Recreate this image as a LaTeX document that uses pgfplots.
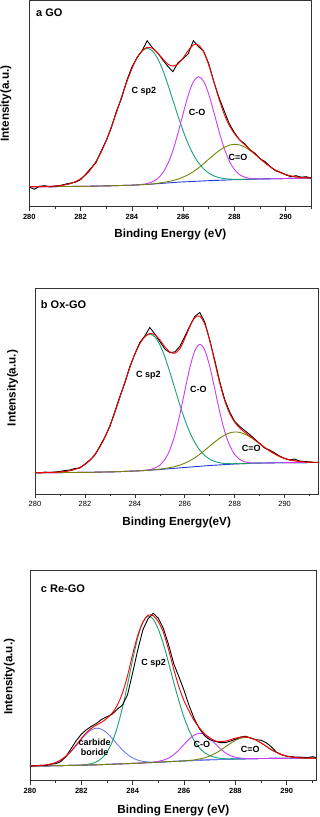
\documentclass[border=0pt]{standalone}
\usepackage{fontspec}
\setmainfont{Liberation Sans}
\usepackage{pgfplots}
\usepackage{pgfplotstable}
\pgfplotsset{compat=1.18}
\definecolor{cgreen}{RGB}{25,160,115}
\definecolor{cpurple}{RGB}{200,60,250}
\definecolor{colive}{RGB}{120,130,10}
\definecolor{cblue}{RGB}{30,60,220}
\definecolor{ccarb}{RGB}{110,125,240}

% Panel a: x, baseline, C sp2, C-O, C=O, envelope, data
\pgfplotstableread{
x B G P O E D
280.0 20.0 20.0 20.0 20.0 20.0 19.5
280.2 20.0 20.0 20.0 20.0 20.0 17.5
280.4 20.0 20.0 20.0 20.0 20.0 20.5
280.6 20.1 20.2 20.1 20.1 20.2 21.0
280.8 20.1 20.4 20.1 20.1 20.4 19.8
281.0 20.1 20.6 20.1 20.1 20.6 20.5
281.2 20.2 21.2 20.2 20.2 21.2 21.0
281.4 20.2 21.9 20.2 20.2 21.9 22.5
281.6 20.2 23.1 20.2 20.2 23.1 23.5
281.8 20.3 25.0 20.3 20.3 25.0 24.5
282.0 20.3 27.8 20.3 20.3 27.8 27.0
282.2 20.4 31.9 20.4 20.4 31.9 32.5
282.4 20.5 37.6 20.5 20.5 37.6 38.5
282.6 20.6 45.1 20.6 20.6 45.1 44.0
282.8 20.7 54.6 20.7 20.7 54.6 55.5
283.0 20.8 66.2 20.8 20.8 66.2 66.0
283.2 20.9 79.7 20.9 20.9 79.7 79.0
283.4 21.1 94.4 21.1 21.1 94.4 95.5
283.6 21.2 109.7 21.2 21.2 109.7 108.5
283.8 21.4 124.8 21.4 21.4 124.8 126.0
284.0 21.5 138.1 21.5 21.5 138.1 139.5
284.2 21.8 148.8 21.9 21.8 148.9 149.0
284.4 22.0 155.7 22.3 22.0 156.0 156.0
284.6 22.3 158.3 23.2 22.4 159.3 166.0
284.8 22.6 155.9 24.9 22.8 158.4 159.0
285.0 23.0 148.5 28.0 23.4 153.9 154.0
285.2 23.4 137.0 33.7 24.1 148.0 147.0
285.4 23.8 122.5 42.8 25.0 142.7 140.5
285.6 24.1 106.6 56.1 26.1 140.6 135.0
285.8 24.5 90.7 73.5 27.6 142.8 144.0
286.0 24.8 75.8 93.0 29.6 148.8 148.0
286.2 25.0 62.8 111.5 32.0 156.3 153.0
286.4 25.3 52.2 125.0 35.1 161.7 166.0
286.6 25.5 43.9 130.0 38.8 161.7 160.0
286.8 25.8 37.9 125.5 43.0 154.8 155.5
287.0 26.0 33.6 112.5 47.5 141.6 143.0
287.2 26.2 30.8 94.4 51.9 124.7 125.0
287.4 26.4 29.1 75.4 56.0 107.7 109.0
287.6 26.6 28.1 58.6 59.3 92.8 96.0
287.8 26.8 27.6 45.8 61.5 81.3 83.0
288.0 27.0 27.4 37.3 62.4 73.1 74.0
288.2 27.1 27.3 32.1 61.7 66.9 67.0
288.4 27.3 27.4 29.6 59.7 62.1 63.0
288.6 27.4 27.4 28.3 56.4 57.3 57.0
288.8 27.6 27.6 27.9 52.4 52.7 53.5
289.0 27.7 27.7 27.8 48.1 48.2 48.0
289.2 27.8 27.8 27.8 43.7 43.7 45.0
289.4 27.9 27.9 27.9 39.9 39.9 40.0
289.6 28.0 28.0 28.0 36.6 36.6 36.0
289.8 28.1 28.1 28.1 34.0 34.0 34.5
290.0 28.2 28.2 28.2 32.1 32.1 32.0
290.2 28.3 28.3 28.3 30.7 30.7 30.0
290.4 28.3 28.3 28.3 29.8 29.8 31.0
290.6 28.4 28.4 28.4 29.2 29.2 29.5
290.8 28.4 28.4 28.4 28.9 28.9 30.0
291.0 28.5 28.5 28.5 28.7 28.7 28.5
}\tabA

% Panel b
\pgfplotstableread{
x B G P O E D
280.0 21.3 21.3 21.3 21.3 21.3 21.5
280.2 21.3 21.3 21.3 21.3 21.3 21.0
280.4 21.3 21.4 21.3 21.3 21.4 22.0
280.6 21.4 21.6 21.4 21.4 21.6 21.5
280.8 21.4 21.7 21.4 21.4 21.7 22.0
281.0 21.4 22.0 21.4 21.4 22.0 22.5
281.2 21.5 22.5 21.5 21.5 22.5 23.5
281.4 21.5 23.3 21.5 21.5 23.3 24.0
281.6 21.5 24.6 21.5 21.5 24.6 25.5
281.8 21.6 26.6 21.6 21.6 26.6 26.0
282.0 21.6 29.5 21.6 21.6 29.5 30.0
282.2 21.7 33.7 21.7 21.7 33.7 34.0
282.4 21.8 39.5 21.8 21.8 39.5 39.0
282.6 21.9 47.2 21.9 21.9 47.2 48.0
282.8 22.0 56.8 22.0 22.0 56.8 57.0
283.0 22.1 68.3 22.1 22.1 68.3 67.5
283.2 22.2 81.8 22.2 22.2 81.8 82.5
283.4 22.4 96.6 22.4 22.4 96.6 97.5
283.6 22.6 111.8 22.6 22.6 111.8 111.0
283.8 22.8 126.7 22.8 22.8 126.7 127.5
284.0 23.0 139.8 23.0 23.0 139.8 140.0
284.2 23.2 150.4 23.3 23.2 150.5 151.5
284.4 23.5 157.2 23.7 23.5 157.4 158.0
284.6 23.8 159.8 24.5 23.9 160.6 166.5
284.8 24.1 157.2 25.9 24.3 159.2 160.0
285.0 24.5 149.4 28.9 24.9 154.2 152.5
285.2 24.9 137.2 34.4 25.5 147.3 145.0
285.4 25.3 122.1 44.1 26.4 142.0 141.5
285.6 25.7 105.7 58.9 27.5 140.7 142.0
285.8 26.1 89.3 79.2 28.9 145.2 147.5
286.0 26.5 74.5 102.9 30.8 155.2 157.5
286.2 26.9 61.8 126.0 33.2 167.2 168.0
286.4 27.3 51.6 143.1 36.2 176.3 177.5
286.6 27.7 43.9 149.7 39.7 177.9 181.5
286.8 28.1 38.5 143.9 43.7 169.9 172.0
287.0 28.5 34.9 127.6 47.9 153.4 154.0
287.2 28.8 32.5 105.2 52.0 132.1 134.0
287.4 29.1 31.2 82.2 55.8 111.0 112.5
287.6 29.4 30.5 62.6 58.9 93.2 94.5
287.8 29.7 30.3 48.5 61.1 80.5 82.0
288.0 30.0 30.3 39.5 62.0 71.8 72.5
288.2 30.2 30.3 34.6 61.6 66.1 67.5
288.4 30.4 30.4 32.2 59.9 61.7 63.5
288.6 30.6 30.6 31.3 57.3 58.0 59.5
288.8 30.8 30.8 31.0 54.0 54.2 55.0
289.0 30.9 30.9 31.0 50.3 50.4 50.5
289.2 31.0 31.0 31.0 46.6 46.6 46.0
289.4 31.1 31.1 31.1 43.1 43.1 44.0
289.6 31.2 31.2 31.2 40.1 40.1 41.0
289.8 31.2 31.2 31.2 37.5 37.5 38.0
290.0 31.3 31.3 31.3 35.6 35.6 35.5
290.2 31.3 31.3 31.3 34.1 34.1 34.0
290.4 31.4 31.4 31.4 33.2 33.2 35.0
290.6 31.4 31.4 31.4 32.5 32.5 33.0
290.8 31.4 31.4 31.4 32.0 32.0 32.5
291.0 31.5 31.5 31.5 31.9 31.9 32.0
291.2 31.5 31.5 31.5 31.7 31.7 31.5
291.4 31.5 31.5 31.5 31.6 31.6 31.5
}\tabB

% Panel c: x, baseline, carbide/boride, C sp2, C-O, C=O, envelope, data
\pgfplotstableread{
x B C G P O E D
280.0 14.7 14.7 14.7 14.7 14.7 14.7 14.5
280.2 14.7 14.8 14.7 14.7 14.7 14.9 15.0
280.4 14.8 15.1 14.8 14.8 14.8 15.2 15.5
280.6 14.8 15.6 14.8 14.8 14.8 15.7 15.0
280.8 14.9 16.5 14.9 14.9 14.9 16.6 16.5
281.0 15.0 18.1 15.0 15.0 15.0 18.2 17.0
281.2 15.1 20.6 15.1 15.1 15.1 20.8 19.0
281.4 15.2 24.3 15.2 15.2 15.2 24.6 24.0
281.6 15.3 29.2 15.3 15.3 15.3 29.6 32.0
281.8 15.4 35.1 15.5 15.4 15.4 35.8 40.0
282.0 15.5 41.4 15.7 15.5 15.5 42.2 46.5
282.2 15.6 47.0 16.2 15.6 15.6 48.0 51.0
282.4 15.8 51.0 17.2 15.8 15.8 52.6 54.5
282.6 15.9 52.5 19.0 15.9 15.9 55.8 57.5
282.8 16.1 51.3 22.5 16.1 16.1 58.6 61.5
283.0 16.3 47.7 28.7 16.3 16.3 62.5 64.0
283.2 16.5 42.4 38.7 16.5 16.5 67.5 66.5
283.4 16.7 36.4 53.3 16.7 16.7 75.5 71.5
283.6 16.9 30.8 72.8 16.9 16.9 87.5 75.5
283.8 17.1 26.2 96.2 17.1 17.1 105.0 86.0
284.0 17.3 22.8 121.0 17.3 17.3 126.5 108.0
284.2 17.5 20.6 143.3 17.5 17.5 145.5 131.0
284.4 17.8 19.4 159.0 17.8 17.8 158.5 151.0
284.6 18.0 18.8 164.8 18.1 18.0 165.5 162.0
284.8 18.2 18.5 161.5 18.5 18.2 165.0 167.5
285.0 18.5 18.6 151.5 19.3 18.5 159.0 162.5
285.2 18.8 18.8 136.4 20.6 18.8 148.0 152.0
285.4 19.0 19.0 117.9 22.6 19.0 131.0 136.0
285.6 19.3 19.3 98.4 26.0 19.3 111.5 117.0
285.8 19.5 19.5 79.8 30.6 19.5 94.0 104.0
286.0 19.8 19.8 63.5 36.2 19.9 80.0 90.5
286.2 20.0 20.0 50.2 41.6 20.3 69.5 75.0
286.4 20.2 20.2 40.0 45.7 20.8 60.0 62.0
286.6 20.5 20.5 32.9 47.5 21.7 53.0 52.0
286.8 20.7 20.7 28.1 46.2 22.9 47.0 45.0
287.0 20.9 20.9 25.1 42.5 24.7 43.0 41.0
287.2 21.1 21.1 23.4 37.5 27.1 40.0 39.5
287.4 21.2 21.2 22.4 32.3 30.0 39.0 38.0
287.6 21.4 21.4 22.0 28.1 33.6 39.5 38.0
287.8 21.5 21.5 21.8 25.1 37.1 41.0 39.5
288.0 21.7 21.7 21.8 23.5 40.3 42.5 41.5
288.2 21.8 21.8 21.8 22.6 42.5 43.5 43.5
288.4 21.9 21.9 21.9 22.2 43.4 43.8 44.5
288.6 22.0 22.0 22.0 22.1 42.7 42.8 42.5
288.8 22.1 22.1 22.1 22.1 40.7 40.7 41.0
289.0 22.2 22.2 22.2 22.2 37.8 37.8 40.5
289.2 22.2 22.2 22.2 22.2 34.4 34.4 38.0
289.4 22.3 22.3 22.3 22.3 31.1 31.1 34.0
289.6 22.3 22.3 22.3 22.3 28.3 28.3 28.5
289.8 22.3 22.3 22.3 22.3 26.1 26.1 26.0
290.0 22.4 22.4 22.4 22.4 24.6 24.6 24.5
290.2 22.4 22.4 22.4 22.4 23.6 23.6 24.0
290.4 22.4 22.4 22.4 22.4 23.0 23.0 23.5
290.6 22.5 22.5 22.5 22.5 22.8 22.8 23.5
290.8 22.5 22.5 22.5 22.5 22.6 22.6 23.0
291.0 22.5 22.5 22.5 22.5 22.5 22.5 24.0
291.2 22.5 22.5 22.5 22.5 22.5 22.5 23.0
}\tabC

\pgfplotsset{
  xps/.style={
    scale only axis, xmin=280, ymin=0,
    xtick={280,282,...,290}, minor xtick={281,283,...,291},
    ytick=\empty, tick align=outside, xtick pos=bottom,
    major tick length=4pt, minor tick length=2.5pt,
    axis line style={line width=0.7pt, black!80},
    every tick/.style={black!80, line width=0.6pt},
    /pgf/number format/assume math mode=true,
    /pgf/number format/1000 sep={},
    xticklabel style={font=\fontsize{7.5}{8.5}\selectfont\bfseries},
    label style={font=\fontsize{11.7}{13}\selectfont\bfseries},
    ylabel={Intensity(a.u.)},
    every axis plot/.append style={line width=0.9pt, no markers},
  },
}
\tikzset{
  ann/.style={font=\fontsize{9}{10}\selectfont\bfseries, inner sep=0pt},
  ttl/.style={font=\fontsize{11}{12}\selectfont\bfseries, anchor=west, inner sep=0pt},
}

\begin{document}
\begin{tikzpicture}
\useasboundingbox (0,0) rectangle (319pt,817pt);

% ---------- a GO ----------
\begin{axis}[xps, at={(29.3pt,610.3pt)}, anchor=south west,
  width=282pt, height=206pt, xmax=291, ymax=206,
  xlabel={Binding Energy (eV)},
  xlabel style={at={(axis description cs:0.5,-0.137)}, anchor=center},
  ylabel style={at={(axis description cs:-0.083,0.5)}, anchor=center}]
\addplot[cblue] table[x=x,y=B]{\tabA};
\addplot[cgreen, smooth] table[x=x,y=G]{\tabA};
\addplot[cpurple, smooth] table[x=x,y=P]{\tabA};
\addplot[colive, smooth] table[x=x,y=O]{\tabA};
\addplot[black] table[x=x,y=D]{\tabA};
\addplot[red, smooth] table[x=x,y=E]{\tabA};
\node[ttl] at (axis cs:280.26,194) {a GO};
\node[ann] at (axis cs:284.47,115) {C sp2};
\node[ann] at (axis cs:286.55,94) {C-O};
\node[ann] at (axis cs:288.14,49) {C=O};
\end{axis}

% ---------- b Ox-GO ----------
\begin{axis}[xps, at={(35pt,323pt)}, anchor=south west,
  width=283.3pt, height=205.7pt, xmax=291.35, ymax=205.7,
  xticklabel style={font=\fontsize{7.5}{8.5}\selectfont\mdseries},
  xlabel={Binding Energy(eV)},
  xlabel style={at={(axis description cs:0.5,-0.138)}, anchor=center},
  ylabel style={at={(axis description cs:-0.079,0.515)}, anchor=center}]
\addplot[cblue] table[x=x,y=B]{\tabB};
\addplot[cgreen, smooth] table[x=x,y=G]{\tabB};
\addplot[cpurple, smooth] table[x=x,y=P]{\tabB};
\addplot[colive, smooth] table[x=x,y=O]{\tabB};
\addplot[black] table[x=x,y=D]{\tabB};
\addplot[red, smooth] table[x=x,y=E]{\tabB};
\node[ttl] at (axis cs:280.23,189) {b Ox-GO};
\node[ann] at (axis cs:284.54,118.3) {C sp2};
\node[ann] at (axis cs:286.55,105) {C-O};
\node[ann] at (axis cs:288.66,45.7) {C=O};
\end{axis}

% ---------- c Re-GO ----------
\begin{axis}[xps, at={(30pt,36.3pt)}, anchor=south west,
  width=286.7pt, height=210pt, xmax=291.17, ymax=210,
  xlabel={Binding Energy (eV)},
  xlabel style={at={(axis description cs:0.5,-0.14)}, anchor=center},
  ylabel style={at={(axis description cs:-0.072,0.495)}, anchor=center}]
\addplot[cblue] table[x=x,y=B]{\tabC};
\addplot[ccarb, smooth] table[x=x,y=C]{\tabC};
\addplot[cgreen, smooth] table[x=x,y=G]{\tabC};
\addplot[cpurple, smooth] table[x=x,y=P]{\tabC};
\addplot[colive, smooth] table[x=x,y=O]{\tabC};
\addplot[black] table[x=x,y=D]{\tabC};
\addplot[red, smooth] table[x=x,y=E]{\tabC};
\node[ttl] at (axis cs:280.42,191.7) {c Re-GO};
\node[ann] at (axis cs:284.82,117.4) {C sp2};
\node[ann, align=center, font=\fontsize{9}{9.6}\selectfont\bfseries] at (axis cs:282.52,33.2) {carbide\\boride};
\node[ann] at (axis cs:286.7,36.7) {C-O};
\node[ann] at (axis cs:288.58,31.4) {C=O};
\end{axis}
\end{tikzpicture}
\end{document}
